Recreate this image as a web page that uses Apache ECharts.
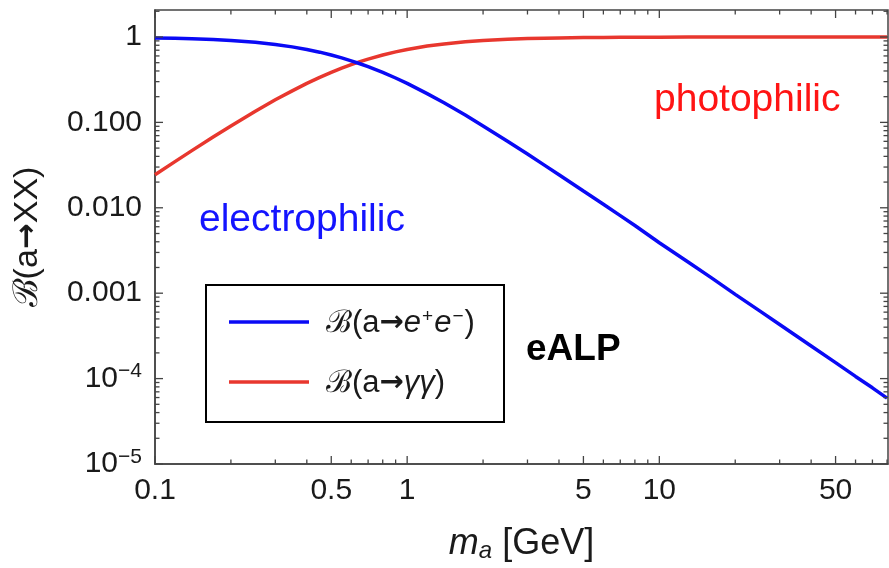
<!DOCTYPE html>
<html>
<head>
<meta charset="utf-8">
<script src="https://cdn.jsdelivr.net/npm/echarts@6/dist/echarts.min.js"></script>
<style>
  html, body { margin: 0; padding: 0; background: #fff; }
  #chart { width: 889px; height: 568px; }
</style>
</head>
<body>
<div id="chart"></div>
<script>
// ALP mass [GeV]
const masses = [0.1, 0.12, 0.14, 0.17, 0.2, 0.25, 0.3, 0.35, 0.4, 0.45, 0.5, 0.55, 0.6, 0.65, 0.7, 0.8, 0.9,
  1, 1.2, 1.4, 1.7, 2, 2.5, 3, 3.5, 4, 5, 6, 7, 8, 10, 13, 16, 20, 25, 30, 40, 50, 60, 70, 80];
// branching ratio a -> e+ e-
const brElectrons = [0.976, 0.965, 0.953, 0.933, 0.909, 0.865, 0.816, 0.766, 0.714, 0.664, 0.615, 0.569, 0.526, 0.486, 0.449, 0.385, 0.331,
  0.286, 0.217, 0.170, 0.122, 0.0909, 0.0602, 0.0426, 0.0316, 0.0244, 0.0157, 0.0110, 0.0081, 0.0062, 0.0039, 0.00232, 0.00153, 0.00097, 0.00062, 0.00043, 0.000241, 0.000154, 0.000106, 0.000078, 0.000059];
// branching ratio a -> gamma gamma
const brPhotons = [0.0244, 0.0347, 0.0467, 0.0674, 0.0909, 0.135, 0.184, 0.234, 0.286, 0.336, 0.385, 0.431, 0.474, 0.514, 0.551, 0.615, 0.669,
  0.714, 0.783, 0.830, 0.878, 0.909, 0.940, 0.957, 0.968, 0.976, 0.984, 0.989, 0.992, 0.994, 0.996, 0.9976, 0.9984, 0.999, 0.9994, 0.9996, 0.9998, 0.9998, 0.9999, 0.9999, 0.9999];

// axis ticks and labels
const xLabelValues = [0.1, 0.5, 1, 5, 10, 50];
const xMajorTicks = [0.1, 0.5, 1, 5, 10, 50];
const xMinorTicks = [0.2, 0.3, 0.4, 0.6, 0.7, 0.8, 0.9, 2, 3, 4, 6, 7, 8, 9, 20, 30, 40, 60, 70, 80];
const yLabelValues = [1e-5, 1e-4, 1e-3, 1e-2, 1e-1, 1];
const yLabelTexts = ['{b|10}{s|−5}', '{b|10}{s|−4}', '0.001', '0.010', '0.100', '1'];
const yMajorTicks = [1e-5, 1e-4, 1e-3, 1e-2, 1e-1, 1];
const yMinorTicks = [];
[1e-5, 1e-4, 1e-3, 1e-2, 1e-1, 1].forEach(d => {
  for (let k = 2; k <= 9; k++) { if (d * k <= 2.07) yMinorTicks.push(+(d * k).toPrecision(3)); }
});

const X_MIN = 0.1, X_MAX = 80.7, Y_MIN = 1e-5, Y_MAX = 2.07;
const FONT = '"Liberation Sans", Arial, Helvetica, sans-serif';
const ARROW_FONT = '"DejaVu Sans", sans-serif';
const AXIS_COLOR = '#444';
const TEXT_COLOR = '#1a1a1a';
const BLUE = '#0a0af5';
const RED = '#e8372e';

// tick records: [x, y, length, side]  side: 0 bottom, 1 top, 2 left, 3 right
const tickData = [];
xMajorTicks.forEach(v => { tickData.push([v, Y_MIN, 8, 0]); tickData.push([v, Y_MAX, 8, 1]); });
xMinorTicks.forEach(v => { tickData.push([v, Y_MIN, 4.5, 0]); tickData.push([v, Y_MAX, 4.5, 1]); });
yMajorTicks.forEach(v => { tickData.push([X_MIN, v, 8, 2]); tickData.push([X_MAX, v, 8, 3]); });
yMinorTicks.forEach(v => { tickData.push([X_MIN, v, 4.5, 2]); tickData.push([X_MAX, v, 4.5, 3]); });

const chart = echarts.init(document.getElementById('chart'), null, { renderer: 'canvas' });

const legendRich = {
  n: { fontSize: 31, fontFamily: FONT, fill: TEXT_COLOR },
  ar: { fontSize: 29, fontFamily: ARROW_FONT, fill: TEXT_COLOR, fontWeight: 'bold' },
  i: { fontSize: 31, fontFamily: FONT, fontStyle: 'italic', fill: TEXT_COLOR },
  p: { fontSize: 19, fontFamily: FONT, fill: TEXT_COLOR, verticalAlign: 'top', padding: [0, 1, 13, 1] }
};

chart.setOption({
  animation: false,
  backgroundColor: '#fff',
  grid: { left: 155, right: 1, top: 10, bottom: 103, show: true, borderColor: AXIS_COLOR, borderWidth: 1.5 },
  xAxis: {
    type: 'log', logBase: 10, min: X_MIN, max: X_MAX,
    axisLine: { show: true, lineStyle: { color: AXIS_COLOR, width: 1.5 } },
    axisTick: { show: false },
    splitLine: { show: false },
    axisLabel: {
      customValues: xLabelValues, margin: 12, color: TEXT_COLOR, fontSize: 30, fontFamily: FONT,
      formatter: v => String(v)
    },
    name: '{m|m}{a|a}{r| [GeV]}',
    nameLocation: 'middle', nameGap: 61,
    nameTextStyle: {
      color: TEXT_COLOR, fontFamily: FONT,
      rich: {
        m: { fontSize: 36, fontStyle: 'italic', fontFamily: FONT, color: TEXT_COLOR },
        a: { fontSize: 24, fontStyle: 'italic', fontFamily: FONT, color: TEXT_COLOR, verticalAlign: 'bottom', padding: [14, 0, 0, 0] },
        r: { fontSize: 36, fontFamily: FONT, color: TEXT_COLOR }
      }
    }
  },
  yAxis: {
    type: 'log', logBase: 10, min: Y_MIN, max: Y_MAX,
    axisLine: { show: true, lineStyle: { color: AXIS_COLOR, width: 1.5 } },
    axisTick: { show: false },
    splitLine: { show: false },
    axisLabel: {
      customValues: yLabelValues, margin: 13, color: TEXT_COLOR, fontSize: 30, fontFamily: FONT,
      formatter: v => {
        const i = yLabelValues.findIndex(t => Math.abs(Math.log10(t) - Math.log10(v)) < 1e-6);
        return i >= 0 ? yLabelTexts[i] : '';
      },
      rich: {
        b: { fontSize: 30, fontFamily: FONT, color: TEXT_COLOR },
        s: { fontSize: 21, fontFamily: FONT, color: TEXT_COLOR, verticalAlign: 'top', padding: [0, 0, 14, 0] }
      }
    },
    name: '{n|ℬ(a}{ar|→}{n|XX)}',
    nameLocation: 'middle', nameGap: 110, nameRotate: 90,
    nameTextStyle: {
      color: TEXT_COLOR, fontSize: 34, fontFamily: FONT,
      rich: {
        n: { fontSize: 34, fontFamily: FONT, color: TEXT_COLOR },
        ar: { fontSize: 31, fontFamily: ARROW_FONT, color: TEXT_COLOR, fontWeight: 'bold' }
      }
    }
  },
  series: [
    {
      name: 'ℬ(a→e⁺e⁻)', type: 'line', showSymbol: false, smooth: false,
      lineStyle: { color: BLUE, width: 3.5 },
      data: masses.map((m, i) => [m, brElectrons[i]]), z: 3
    },
    {
      name: 'ℬ(a→γγ)', type: 'line', showSymbol: false, smooth: false,
      lineStyle: { color: RED, width: 3.5 },
      data: masses.map((m, i) => [m, brPhotons[i]]), z: 2
    },
    {
      type: 'custom', clip: false, silent: true, z: 5,
      data: tickData,
      renderItem: (params, api) => {
        const p = api.coord([api.value(0), api.value(1)]);
        const len = api.value(2), side = api.value(3);
        let x2 = p[0], y2 = p[1];
        if (side === 0) y2 -= len; else if (side === 1) y2 += len;
        else if (side === 2) x2 += len; else x2 -= len;
        return {
          type: 'line',
          shape: { x1: p[0], y1: p[1], x2: x2, y2: y2 },
          style: { stroke: AXIS_COLOR, lineWidth: 1.3 }
        };
      }
    }
  ],
  graphic: [
    { type: 'text', left: 199, top: 201, style: { text: 'electrophilic', fill: '#1414ff', font: '39px ' + FONT } },
    { type: 'text', left: 654, top: 81, style: { text: 'photophilic', fill: '#ff1414', font: '39px ' + FONT } },
    { type: 'text', left: 526, top: 331, style: { text: 'eALP', fill: '#000', font: 'bold 37px ' + FONT } },
    {
      type: 'group', left: 205, top: 284,
      children: [
        { type: 'rect', shape: { x: 0, y: 0, width: 298, height: 137 }, style: { fill: '#fff', stroke: '#000', lineWidth: 2 } },
        { type: 'line', shape: { x1: 23, y1: 37, x2: 103, y2: 37 }, style: { stroke: BLUE, lineWidth: 3.5 } },
        { type: 'line', shape: { x1: 23, y1: 97, x2: 103, y2: 97 }, style: { stroke: RED, lineWidth: 3.5 } },
        {
          type: 'text', x: 120, y: 38,
          style: { text: '{n|ℬ(a}{ar|→}{i|e}{p|+}{i|e}{p|−}{n|)}', verticalAlign: 'middle', rich: legendRich }
        },
        {
          type: 'text', x: 120, y: 98,
          style: { text: '{n|ℬ(a}{ar|→}{i|γγ}{n|)}', verticalAlign: 'middle', rich: legendRich }
        }
      ]
    }
  ]
});
</script>
</body>
</html>
